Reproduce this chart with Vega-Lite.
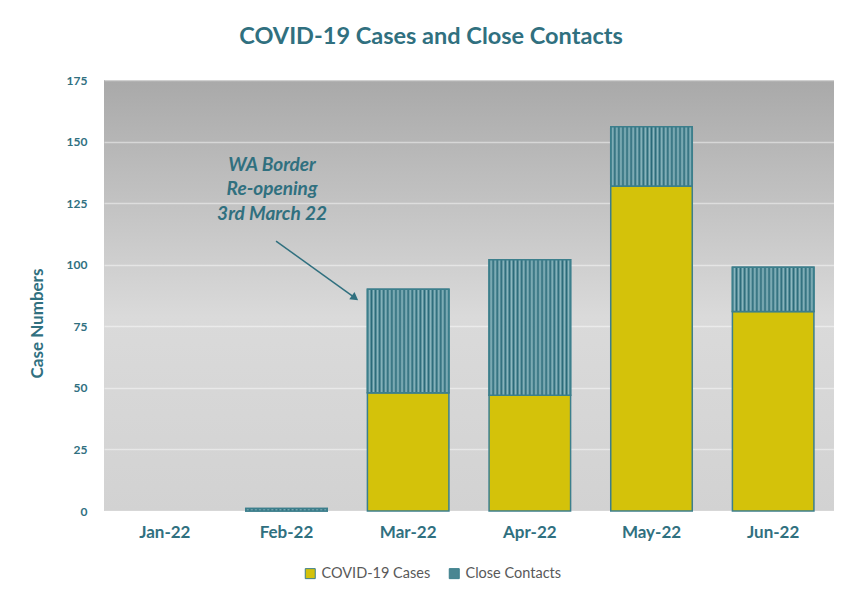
{
  "$schema": "https://vega.github.io/schema/vega-lite/v6.json",
  "width": 730,
  "height": 431,
  "autosize": {"type": "none"},
  "padding": {"left": 104, "top": 80, "right": 7, "bottom": 83},
  "background": "white",
  "title": {
    "text": "COVID-19 Cases and Close Contacts",
    "font": "Lato",
    "fontSize": 23.5,
    "fontWeight": "bold",
    "color": "#30707f",
    "anchor": "middle",
    "frame": "group",
    "dx": -38,
    "offset": 26
  },
  "datasets": {
    "bars": [
      {"month": "Jan-22", "type": "COVID-19 Cases", "value": 0},
      {"month": "Jan-22", "type": "Close Contacts", "value": 0},
      {"month": "Feb-22", "type": "COVID-19 Cases", "value": 0},
      {"month": "Feb-22", "type": "Close Contacts", "value": 1},
      {"month": "Mar-22", "type": "COVID-19 Cases", "value": 48},
      {"month": "Mar-22", "type": "Close Contacts", "value": 42},
      {"month": "Apr-22", "type": "COVID-19 Cases", "value": 47},
      {"month": "Apr-22", "type": "Close Contacts", "value": 55},
      {"month": "May-22", "type": "COVID-19 Cases", "value": 132},
      {"month": "May-22", "type": "Close Contacts", "value": 24},
      {"month": "Jun-22", "type": "COVID-19 Cases", "value": 81},
      {"month": "Jun-22", "type": "Close Contacts", "value": 18}
    ],
    "note": [
      {"label": ["WA Border", "Re-opening", "3rd March 22"], "tx": 1.381, "ty": 140.5, "x0": 1.414, "y0": 109.6, "x1": 2.063, "y1": 86.5}
    ]
  },
  "config": {
    "view": {
      "stroke": null,
      "fill": {
        "gradient": "linear", "x1": 0, "y1": 0, "x2": 0, "y2": 1,
        "stops": [
          {"offset": 0, "color": "#a9a9a9"},
          {"offset": 0.55, "color": "#dadada"},
          {"offset": 1, "color": "#d2d2d2"}
        ]
      }
    },
    "axis": {
      "labelFont": "Lato",
      "titleFont": "Lato",
      "labelColor": "#30707f",
      "titleColor": "#30707f",
      "labelFontWeight": "bold",
      "titleFontWeight": "bold",
      "domain": false,
      "ticks": false
    },
    "legend": {
      "labelFont": "Lato",
      "labelFontSize": 14.5,
      "labelColor": "#595959",
      "symbolType": "square",
      "symbolSize": 100,
      "symbolStrokeColor": "#3c7f8c",
      "symbolStrokeWidth": 1,
      "symbolOpacity": 1
    }
  },
  "resolve": {"scale": {"x": "independent"}},
  "layer": [
    {
      "data": {"name": "bars"},
      "transform": [
        {"stack": "value", "groupby": ["month"], "sort": [{"field": "type", "order": "ascending"}], "as": ["v0", "v1"]},
        {"filter": "datum.value > 0"}
      ],
      "layer": [
        {
          "mark": {"type": "bar", "stroke": "#3c7f8c", "strokeWidth": 1.5, "opacity": 1},
          "encoding": {
            "x": {
              "field": "month",
              "type": "nominal",
              "scale": {"domain": ["Jan-22", "Feb-22", "Mar-22", "Apr-22", "May-22", "Jun-22"], "paddingInner": 0.33, "paddingOuter": 0.165},
              "axis": {"title": null, "labelAngle": 0, "labelFontSize": 17, "labelPadding": 13, "grid": false}
            },
            "y": {
              "field": "v0",
              "type": "quantitative",
              "scale": {"domain": [0, 175], "nice": false},
              "axis": {
                "title": "Case Numbers",
                "titleFontSize": 17,
                "titleY": 243,
                "values": [0, 25, 50, 75, 100, 125, 150, 175],
                "labelFontSize": 12,
                "labelPadding": 17,
                "grid": true,
                "gridColor": "#ffffff",
                "gridOpacity": 0.45,
                "gridWidth": 1.5,
                "titlePadding": 20
              }
            },
            "y2": {"field": "v1"},
            "color": {
              "field": "type",
              "type": "nominal",
              "scale": {
                "domain": ["COVID-19 Cases", "Close Contacts"],
                "range": ["#d4c20a", "#4a8692"]
              },
              "legend": {
                "title": null,
                "orient": "none",
                "direction": "horizontal",
                "legendX": 199,
                "legendY": 486,
                "columnPadding": 16
              }
            }
          }
        },
        {
          "transform": [{"filter": "datum.type === 'Close Contacts'"}],
          "mark": {
            "type": "bar", "stroke": "#3c7f8c", "strokeWidth": 1.5, "opacity": 1,
            "fill": {
              "gradient": "linear", "x1": 0, "y1": 0, "x2": 1, "y2": 0,
              "stops": [
                {"offset": 0, "color": "#2a6a79"},
                {"offset": 0.025, "color": "#8db8c0"},
                {"offset": 0.05, "color": "#2a6a79"},
                {"offset": 0.075, "color": "#8db8c0"},
                {"offset": 0.1, "color": "#2a6a79"},
                {"offset": 0.125, "color": "#8db8c0"},
                {"offset": 0.15, "color": "#2a6a79"},
                {"offset": 0.175, "color": "#8db8c0"},
                {"offset": 0.2, "color": "#2a6a79"},
                {"offset": 0.225, "color": "#8db8c0"},
                {"offset": 0.25, "color": "#2a6a79"},
                {"offset": 0.275, "color": "#8db8c0"},
                {"offset": 0.3, "color": "#2a6a79"},
                {"offset": 0.325, "color": "#8db8c0"},
                {"offset": 0.35, "color": "#2a6a79"},
                {"offset": 0.375, "color": "#8db8c0"},
                {"offset": 0.4, "color": "#2a6a79"},
                {"offset": 0.425, "color": "#8db8c0"},
                {"offset": 0.45, "color": "#2a6a79"},
                {"offset": 0.475, "color": "#8db8c0"},
                {"offset": 0.5, "color": "#2a6a79"},
                {"offset": 0.525, "color": "#8db8c0"},
                {"offset": 0.55, "color": "#2a6a79"},
                {"offset": 0.575, "color": "#8db8c0"},
                {"offset": 0.6, "color": "#2a6a79"},
                {"offset": 0.625, "color": "#8db8c0"},
                {"offset": 0.65, "color": "#2a6a79"},
                {"offset": 0.675, "color": "#8db8c0"},
                {"offset": 0.7, "color": "#2a6a79"},
                {"offset": 0.725, "color": "#8db8c0"},
                {"offset": 0.75, "color": "#2a6a79"},
                {"offset": 0.775, "color": "#8db8c0"},
                {"offset": 0.8, "color": "#2a6a79"},
                {"offset": 0.825, "color": "#8db8c0"},
                {"offset": 0.85, "color": "#2a6a79"},
                {"offset": 0.875, "color": "#8db8c0"},
                {"offset": 0.9, "color": "#2a6a79"},
                {"offset": 0.925, "color": "#8db8c0"},
                {"offset": 0.95, "color": "#2a6a79"},
                {"offset": 0.975, "color": "#8db8c0"},
                {"offset": 1, "color": "#2a6a79"}
              ]
            }
          },
          "encoding": {
            "x": {"field": "month", "type": "nominal"},
            "y": {"field": "v0", "type": "quantitative"},
            "y2": {"field": "v1"}
          }
        }
      ]
    },
    {
      "data": {"name": "note"},
      "encoding": {
        "x": {"field": "x0", "type": "quantitative", "scale": {"domain": [0, 6], "nice": false, "zero": false}, "axis": null}
      },
      "layer": [
        {
          "mark": {"type": "rule", "color": "#30707f", "strokeWidth": 1.5},
          "encoding": {
            "x2": {"field": "x1"},
            "y": {"field": "y0", "type": "quantitative"},
            "y2": {"field": "y1"}
          }
        },
        {
          "mark": {"type": "point", "shape": "triangle-right", "filled": true, "size": 80, "angle": 36, "color": "#30707f", "opacity": 1},
          "encoding": {
            "x": {"field": "x1", "type": "quantitative", "axis": null},
            "y": {"field": "y1", "type": "quantitative"}
          }
        },
        {
          "mark": {"type": "text", "font": "Lato", "fontSize": 19, "fontWeight": "bold", "fontStyle": "italic", "color": "#30707f", "lineHeight": 24.5, "align": "center", "baseline": "middle"},
          "encoding": {
            "x": {"field": "tx", "type": "quantitative", "axis": null},
            "y": {"field": "ty", "type": "quantitative"},
            "text": {"field": "label"}
          }
        }
      ]
    }
  ]
}
